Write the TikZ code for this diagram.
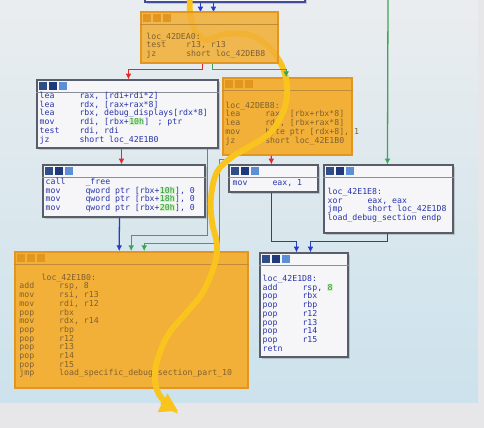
\documentclass[tikz,border=0pt]{standalone}
\usepackage{fontspec}
\newfontfamily\idafont{DejaVu Sans Mono}
\usepackage{tikz}
\usetikzlibrary{arrows.meta,calc,positioning,fit,shadows}
\definecolor{bgtop}{RGB}{234,237,239}
\definecolor{bgbot}{RGB}{204,226,236}
\definecolor{bgout}{RGB}{231,231,234}
\definecolor{blkyel}{RGB}{242,176,56}
\definecolor{blkyeldark}{RGB}{226,150,32}
\definecolor{yeltxt}{RGB}{128,96,50}
\definecolor{blkwht}{RGB}{246,246,248}
\definecolor{blkedge}{RGB}{88,93,108}
\definecolor{asmblue}{RGB}{40,52,170}
\definecolor{hexgreen}{RGB}{40,150,60}
\definecolor{hexbg}{RGB}{212,240,200}
\definecolor{edgered}{RGB}{228,40,36}
\definecolor{edgegreen}{RGB}{62,164,84}
\definecolor{edgeblue}{RGB}{36,60,200}
\definecolor{trail}{RGB}{250,196,30}
\definecolor{icoA}{RGB}{47,77,134}
\definecolor{icoB}{RGB}{31,58,120}
\definecolor{icoC}{RGB}{92,143,214}

\newcommand{\asm}[2]{\makebox[34pt][l]{#1}#2}
\newcommand{\hexv}[1]{{\fboxsep=0.3pt\colorbox{hexbg}{\textcolor{hexgreen}{#1}}}}
% title bar of a block: line under it and the three icons
\newcommand{\blkhead}[3]{%
  \draw[#2] ($(#1.north west)+(0,13)$) -- ($(#1.north east)+(0,13)$);
  \foreach \ico [count=\i from 0] in {#3}
    \fill[fill=\ico] ($(#1.north west)+(3+\i*10,3)$) rectangle +(8,8);
}

\begin{document}
\begin{tikzpicture}[x=0.03cm, y=-0.03cm,
  wblk/.style={draw=blkedge, line width=0.9pt, fill=blkwht, inner sep=0pt,
    drop shadow={shadow xshift=2pt, shadow yshift=-2pt, opacity=0.35}},
  yblk/.style={draw=blkyeldark, line width=1.4pt, fill=blkyel, inner sep=0pt},
  asmtxt/.style={anchor=north west, inner sep=0pt, align=left, text=asmblue,
    font=\idafont\fontsize{7}{7.43}\selectfont},
  ytxt/.style={asmtxt, text=yeltxt},
  redge/.style={draw=edgered, line width=1.1pt, -{Latex[length=5pt,width=5pt]}},
  gedge/.style={draw=edgegreen, line width=1.1pt, -{Latex[length=5pt,width=5pt]}},
  bedge/.style={draw=edgeblue, line width=1.1pt, -{Latex[length=5pt,width=5pt]}},
  trailpath/.style={draw=trail, line width=5pt, line cap=round,
    -{Triangle[length=15pt,width=17pt]}}]
\useasboundingbox (0,0) rectangle (484,428);
\clip (0,0) rectangle (484,428);
\fill[bgout] (0,0) rectangle (484,428);
\shade[top color=bgtop, bottom color=bgbot] (0,0) rectangle (478,402);

% blocks
\node[wblk, draw=edgeblue!45!blkedge, fit={(145,-12) (305,2)}] (blkTop) {};
\node[wblk, fit={(37,80) (218,148)}] (blkB) {};
\node[yblk, fit={(223,78) (352,155)}] (blkC) {};
\node[wblk, fit={(43,165) (205,217)}] (blkD) {};
\node[wblk, fit={(229,165) (318,192)}] (blkE) {};
\node[wblk, fit={(324,165) (453,233)}] (blkF) {};
\node[yblk, fit={(15,252) (248,388)}] (blkG) {};
\node[wblk, fit={(260,253) (348,357)}] (blkH) {};

\foreach \b in {blkB,blkD,blkE,blkF,blkH}
  \blkhead{\b}{draw=blkedge!70}{icoA,icoB,icoC};
\foreach \b in {blkC,blkG}
  \blkhead{\b}{draw=yeltxt!45!blkyel}{blkyeldark,blkyeldark,blkyeldark};

\node[asmtxt] (txtB) at ($(blkB.north west)+(3,12.5)$) {%
  \asm{lea}{rax, [rdi+rdi*2]}\\
  \asm{lea}{rdx, [rax+rax*8]}\\
  \asm{lea}{rbx, debug\_displays[rdx*8]}\\
  \asm{mov}{rdi, [rbx+\hexv{10h}]\quad; ptr}\\
  \asm{test}{rdi, rdi}\\
  \asm{jz}{short loc\_42E1B0}};
\node[ytxt] (txtC) at ($(blkC.north west)+(3,24.5)$) {%
  loc\_42DEB8:\\
  \asm{lea}{rax, [rbx+rbx*8]}\\
  \asm{lea}{rdx, [rbx+rax*8]}\\
  \asm{mov}{byte ptr [rdx+8], 1}\\
  \asm{jz}{short loc\_42E1B0}};
\node[asmtxt] (txtD) at ($(blkD.north west)+(3,13.5)$) {%
  \asm{call}{\_free}\\
  \asm{mov}{qword ptr [rbx+\hexv{10h}], 0}\\
  \asm{mov}{qword ptr [rbx+\hexv{18h}], 0}\\
  \asm{mov}{qword ptr [rbx+\hexv{20h}], 0}};
\node[asmtxt] (txtE) at ($(blkE.north west)+(4,14.5)$) {\asm{mov}{eax, 1}};
\node[asmtxt] (txtF) at ($(blkF.north west)+(4,23.5)$) {%
  loc\_42E1E8:\\
  \asm{xor}{eax, eax}\\
  \asm{jmp}{short loc\_42E1D8}\\
  load\_debug\_section endp};
\node[ytxt] (txtG) at ($(blkG.north west)+(5,22.5)$) {%
  \hspace*{19pt}loc\_42E1B0:\\
  \asm{add}{rsp, 8}\\
  \asm{mov}{rsi, r13}\\
  \asm{mov}{rdi, r12}\\
  \asm{pop}{rbx}\\
  \asm{mov}{rdx, r14}\\
  \asm{pop}{rbp}\\
  \asm{pop}{r12}\\
  \asm{pop}{r13}\\
  \asm{pop}{r14}\\
  \asm{pop}{r15}\\
  \asm{jmp}{load\_specific\_debug\_section\_part\_10}};
\node[asmtxt] (txtH) at ($(blkH.north west)+(3,22.5)$) {%
  loc\_42E1D8:\\
  \asm{add}{rsp, \hexv{8}}\\
  \asm{pop}{rbx}\\
  \asm{pop}{rbp}\\
  \asm{pop}{r12}\\
  \asm{pop}{r13}\\
  \asm{pop}{r14}\\
  \asm{pop}{r15}\\
  \asm{retn}{}};

% edges
\coordinate (gsrc) at (388,-5);
\draw[bedge] ($(blkTop.south west)+(56,0)$) -- ($(blkTop.south west)+(56,10)$);
\draw[bedge] ($(blkTop.south west)+(69,0)$) -- ($(blkTop.south west)+(69,10)$);
\draw[gedge] (gsrc) -- ($(blkF.north west)+(64,0)$);
\draw[redge] ($(blkB.south west)+(85,0)$) -- ($(blkD.north west)+(79,0)$);
\draw[gedge] ($(blkB.south west)+(171,0)$) |- ($(blkG.north west)+(117,-16)$)
  -- ($(blkG.north west)+(117,0)$);
\draw[gedge] ($(blkC.south west)+(6,0)$) -- ++(0,4) -| ($(blkG.north west)+(205,-8)$)
  -| ($(blkG.north west)+(130,0)$);
\draw[bedge] ($(blkD.south west)+(77,0)$) -- ($(blkG.north west)+(105,0)$);
\draw[redge] ($(blkC.south west)+(49,0)$) -- ($(blkE.north west)+(43,0)$);
\draw[bedge] ($(blkE.south west)+(43,0)$) |- ($(blkH.north west)+(37,-11)$)
  -- ($(blkH.north west)+(37,0)$);
\draw[bedge] ($(blkF.south west)+(64,0)$) |- ($(blkH.north west)+(51,-11)$)
  -- ($(blkH.north west)+(51,0)$);

% the traced path
\draw[trailpath] plot[smooth, tension=0.6] coordinates {(190,-4) (190,12) (194,28)
  (205,40) (225,34) (250,35) (268,46) (280,62) (286,78) (287,95) (283,112)
  (270,133) (247,148) (232,157) (217,172) (211,197) (212,222) (217,245)
  (214,266) (203,292) (187,312) (170,332) (160,352) (155,372) (157,390)
  (166,403) (178,411)};

% block over the start of the path
\node[yblk, fill opacity=0.88, fit={(141,12) (278,63)}] (blkA) {};
\blkhead{blkA}{draw=yeltxt!45!blkyel}{blkyeldark,blkyeldark,blkyeldark}
\node[ytxt] (txtA) at ($(blkA.north west)+(6,21.5)$) {%
  loc\_42DEA0:\\
  \asm{test}{r13, r13}\\
  \asm{jz}{short loc\_42DEB8}};
\draw[redge] ($(blkA.south west)+(62,0)$) -- ++(0,6) -| ($(blkB.north west)+(92,0)$);
\draw[gedge] ($(blkA.south west)+(72,0)$) -- ++(0,6) -| ($(blkC.north west)+(64,0)$);
\end{tikzpicture}
\end{document}
